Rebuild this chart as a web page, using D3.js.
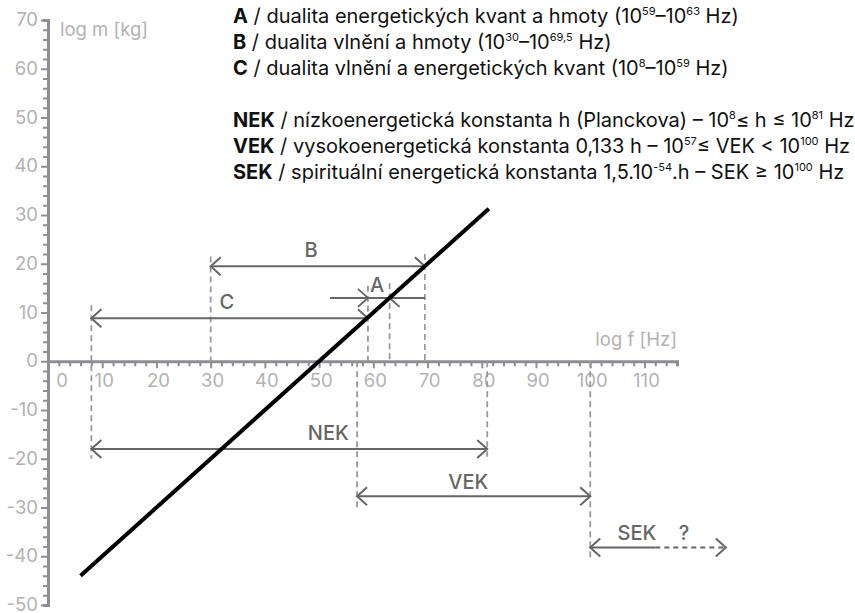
<!DOCTYPE html>
<html>
<head>
<meta charset="utf-8">
<script src="https://cdn.jsdelivr.net/npm/d3@7"></script>
<style>
  body { margin: 0; background: #fff; }
  svg { font-family: Inter, "Noto Sans", sans-serif; display: block; }
</style>
</head>
<body>
<div id="chart"></div>
<script>
// axis ticks and labels
var xTicks = d3.range(0, 117, 2);
var yTicks = d3.range(-50, 71, 2);
var xLabels = d3.range(0, 111, 10);
var yLabels = d3.range(-50, 71, 10);

// main line log m vs log f
var lineData = [{ f: 6, m: -44 }, { f: 81.3, m: 31.3 }];

// dashed guide lines
var guides = [
    { f: 8, m0: 11.5, m1: -20 },
    { f: 30, m0: 21.5, m1: 0 },
    { f: 59, m0: 15.5, m1: 0 },
    { f: 63, m0: 16, m1: 0 },
    { f: 69.5, m0: 22, m1: 0 },
    { f: 57, m0: 0, m1: -30.5 },
    { f: 81, m0: 0, m1: -19.6 },
    { f: 100, m0: 0, m1: -41 }
];

// two-headed spans
var spans = [
    { name: "B", f0: 30, f1: 69.5, m: 19.5, lf: 48.5, lm: 21.4 },
    { name: "C", f0: 8, f1: 59, m: 8.8, lf: 33, lm: 10.7 },
    { name: "NEK", f0: 8, f1: 81, m: -18, lf: 51.7, lm: -16.1 },
    { name: "VEK", f0: 57, f1: 100, m: -27.7, lf: 77.5, lm: -26.2 }
];

// A: outside arrows pointing at 59 and 63
var spanA = { f0: 52, f1: 69.5, m: 13, tipL: 59, tipR: 63, lf: 60.7, lm: 14.2 };
// SEK: open ended to the right
var spanSEK = { f0: 100, fSolid: 112, f1: 125, m: -38.2, lf: 108.6, lm: -36.6, qf: 117.3 };

var legendTop = [
    "**A** / dualita energetických kvant a hmoty (10^{59}–10^{63} Hz)",
    "**B** / dualita vlnění a hmoty (10^{30}–10^{69,5} Hz)",
    "**C** / dualita vlnění a energetických kvant (10^{8}–10^{59} Hz)"
];
var legendBottom = [
    "**NEK** / nízkoenergetická konstanta h (Planckova) – 10^{8}≤ h ≤ 10^{81} Hz",
    "**VEK** / vysokoenergetická konstanta 0,133 h – 10^{57}≤ VEK < 10^{100} Hz",
    "**SEK** / spirituální energetická konstanta 1,5.10^{-54}.h – SEK ≥ 10^{100} Hz"
];

var width = 855, height = 613;
var axisColor = "#8e8e92", labelColor = "#b2b2b2", annColor = "#666666", guideColor = "#9a9a9a";

var svg = d3.select("#chart").append("svg")
    .attr("width", width)
    .attr("height", height);

var x = d3.scaleLinear().domain([0, 116]).range([48, 677]);
var y = d3.scaleLinear().domain([-50, 70]).range([605, 20]);

// x axis
var gx = svg.append("g")
    .attr("transform", "translate(0," + y(0) + ")")
    .call(d3.axisBottom(x).tickValues(xTicks).tickSizeOuter(0).tickSize(5).tickFormat(""));
gx.select(".domain").attr("stroke", axisColor).attr("stroke-width", 3);
gx.selectAll(".tick line")
    .attr("stroke", axisColor).attr("stroke-width", 2)
    .attr("y2", d => d % 10 === 0 ? 7 : 5);

svg.append("g").selectAll("text")
    .data(xLabels)
    .join("text")
    .attr("x", d => d === 0 ? x(d) + 14 : x(d) + 2)
    .attr("y", y(0) + 26)
    .attr("text-anchor", "middle")
    .attr("fill", labelColor)
    .attr("font-size", 18.5)
    .text(d => d);

// y axis
var gy = svg.append("g")
    .attr("transform", "translate(" + x(0) + ",0)")
    .call(d3.axisLeft(y).tickValues(yTicks).tickSizeOuter(0).tickSize(5).tickFormat(""));
gy.select(".domain").attr("stroke", axisColor).attr("stroke-width", 3);
gy.selectAll(".tick line")
    .attr("stroke", axisColor).attr("stroke-width", 2)
    .attr("x2", d => d % 10 === 0 ? -7 : -5);

svg.append("g").selectAll("text")
    .data(yLabels)
    .join("text")
    .attr("x", x(0) - 10)
    .attr("y", d => y(d) + 6)
    .attr("text-anchor", "end")
    .attr("fill", labelColor)
    .attr("font-size", 18.5)
    .text(d => d);

// axis titles
svg.append("text")
    .attr("x", x(0) + 12).attr("y", y(70) + 16)
    .attr("fill", labelColor).attr("font-size", 18.5)
    .text("log m [kg]");
svg.append("text")
    .attr("x", x(116)).attr("y", y(0) - 15)
    .attr("text-anchor", "end")
    .attr("fill", labelColor).attr("font-size", 18.5)
    .text("log f [Hz]");

// dashed guides
svg.append("g").selectAll("line")
    .data(guides)
    .join("line")
    .attr("x1", d => x(d.f)).attr("x2", d => x(d.f))
    .attr("y1", d => y(d.m0)).attr("y2", d => y(d.m1))
    .attr("stroke", guideColor)
    .attr("stroke-width", 1.8)
    .attr("stroke-dasharray", "6,4");

// arrow head: tip at (px, py), dir +1 points right, -1 points left
function head(g, px, py, dir) {
    g.append("path")
        .attr("d", "M" + (px - dir * 10) + "," + (py - 9) + "L" + px + "," + py + "L" + (px - dir * 10) + "," + (py + 9))
        .attr("fill", "none")
        .attr("stroke", annColor)
        .attr("stroke-width", 2);
}

function annLabel(g, f, m, t) {
    g.append("text")
        .attr("x", x(f)).attr("y", y(m))
        .attr("text-anchor", "middle")
        .attr("fill", annColor)
        .attr("font-size", 20)
        .attr("font-weight", 500)
        .text(t);
}

var ann = svg.append("g");

spans.forEach(s => {
    ann.append("line")
        .attr("x1", x(s.f0)).attr("x2", x(s.f1))
        .attr("y1", y(s.m)).attr("y2", y(s.m))
        .attr("stroke", annColor).attr("stroke-width", 2);
    head(ann, x(s.f0), y(s.m), -1);
    head(ann, x(s.f1), y(s.m), 1);
    annLabel(ann, s.lf, s.lm, s.name);
});

// A
ann.append("line")
    .attr("x1", x(spanA.f0)).attr("x2", x(spanA.f1))
    .attr("y1", y(spanA.m)).attr("y2", y(spanA.m))
    .attr("stroke", annColor).attr("stroke-width", 2);
head(ann, x(spanA.tipL), y(spanA.m), 1);
head(ann, x(spanA.tipR), y(spanA.m), -1);
annLabel(ann, spanA.lf, spanA.lm, "A");

// SEK
ann.append("line")
    .attr("x1", x(spanSEK.f0)).attr("x2", x(spanSEK.fSolid))
    .attr("y1", y(spanSEK.m)).attr("y2", y(spanSEK.m))
    .attr("stroke", annColor).attr("stroke-width", 2);
ann.append("line")
    .attr("x1", x(spanSEK.fSolid)).attr("x2", x(spanSEK.f1))
    .attr("y1", y(spanSEK.m)).attr("y2", y(spanSEK.m))
    .attr("stroke", annColor).attr("stroke-width", 2)
    .attr("stroke-dasharray", "5,4");
head(ann, x(spanSEK.f0), y(spanSEK.m), -1);
head(ann, x(spanSEK.f1), y(spanSEK.m), 1);
annLabel(ann, spanSEK.lf, spanSEK.lm, "SEK");
annLabel(ann, spanSEK.qf, spanSEK.lm, "?");

// main line
svg.append("path")
    .datum(lineData)
    .attr("d", d3.line().x(d => x(d.f)).y(d => y(d.m)))
    .attr("fill", "none")
    .attr("stroke", "#000")
    .attr("stroke-width", 4);

// legend with **bold** and ^{sup} markup
function richText(g, str, px, py) {
    var t = g.append("text").attr("x", px).attr("y", py)
        .attr("font-size", 20).attr("fill", "#111");
    var parts = str.split(/(\*\*[^*]+\*\*|\^\{[^}]+\})/).filter(p => p.length);
    var raised = false;
    parts.forEach(p => {
        if (p.startsWith("**")) {
            t.append("tspan").attr("font-weight", 700).text(p.slice(2, -2));
        } else if (p.startsWith("^{")) {
            t.append("tspan").attr("font-size", 11).attr("dy", -8).text(p.slice(2, -1));
            raised = true;
        } else {
            var sp = t.append("tspan").text(p);
            if (raised) { sp.attr("dy", 8); raised = false; }
        }
    });
}

var leg = svg.append("g");
legendTop.forEach((s, i) => richText(leg, s, 233, 23 + i * 26));
legendBottom.forEach((s, i) => richText(leg, s, 233, 127 + i * 26));
</script>
</body>
</html>
